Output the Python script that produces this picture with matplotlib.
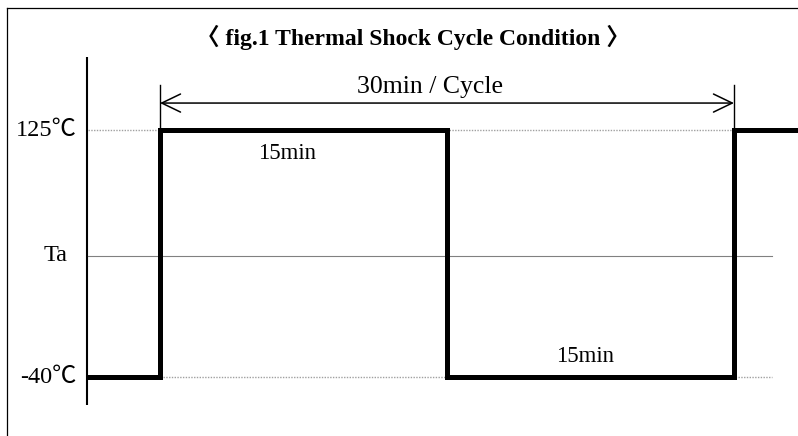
import matplotlib.pyplot as plt
from matplotlib.lines import Line2D

plt.rcParams['font.family'] = ['Liberation Serif', 'Noto Sans CJK JP', 'DejaVu Serif']

# time in minutes, temperature in degC
step_times = [-3.76, 0, 15, 30, 33.4]
step_temps = [-40, 125, -40, 125, 125]
high_temp = 125
low_temp = -40
ta_level = 41          # where the ambient line sits
cycle_start, cycle_end = 0, 30
dwell_label = "15min"
cycle_label = "30min / Cycle"
level_labels = ["125℃", "Ta", "-40℃"]
title = "〈 fig.1 Thermal Shock Cycle Condition 〉"

fig = plt.figure(figsize=(7.98, 4.36), dpi=100)
ax = fig.add_axes([0, 0, 1, 1])
ax.set_xlim(-8.362, 33.345)
ax.set_ylim(-79.41, 211.84)
ax.axis('off')

# outer frame (left and top edges)
fig.add_artist(Line2D([7 / 798, 7 / 798], [0, 1 - 8 / 436], color='black', lw=0.9))
fig.add_artist(Line2D([7 / 798, 1], [1 - 8 / 436, 1 - 8 / 436], color='black', lw=0.9))

# vertical axis
ax.plot([-3.84, -3.84], [-58.7, 173.8], color='black', lw=1.5, solid_capstyle='butt')

# reference levels
ax.plot([-3.76, 32.0], [high_temp, high_temp], color='#a0a0a0', lw=1.0, ls=(0, (1, 1)))
ax.plot([-3.76, 32.0], [low_temp, low_temp], color='#a0a0a0', lw=1.0, ls=(0, (1, 1)))
ax.plot([-3.76, 32.0], [ta_level, ta_level], color='#808080', lw=0.8)

# temperature profile
ax.step(step_times, step_temps, where='post', color='black', lw=3.6,
        solid_joinstyle='miter')

# cycle length dimension
arrow_y = 143
for t in (cycle_start, cycle_end):
    ax.plot([t, t], [high_temp, 155], color='black', lw=1.0)
ax.annotate('', xy=(cycle_end, arrow_y), xytext=(cycle_start, arrow_y),
            arrowprops=dict(arrowstyle='<->,head_length=1.35,head_width=0.65',
                            lw=1.1, color='black', shrinkA=0, shrinkB=0))
ax.text(14.1, 154.0, cycle_label, ha='center', va='center', fontsize=18.5)

ax.text(6.64, 109.5, dwell_label, ha='center', va='center', fontsize=16.5)
ax.text(22.2, -26.5, dwell_label, ha='center', va='center', fontsize=16.5)

# level labels left of the axis; "Ta" sits a little further in
label_x = [-4.37, -4.83, -4.34]
for x, lvl, lab in zip(label_x, [high_temp, ta_level, low_temp], level_labels):
    ax.text(x, lvl, lab, ha='right', va='center', fontsize=17.5)

fig.text(413 / 798, 1 - 37 / 436, title, ha='center', va='center',
         fontsize=17, fontweight='bold')

fig.savefig('out.png', dpi=100)
